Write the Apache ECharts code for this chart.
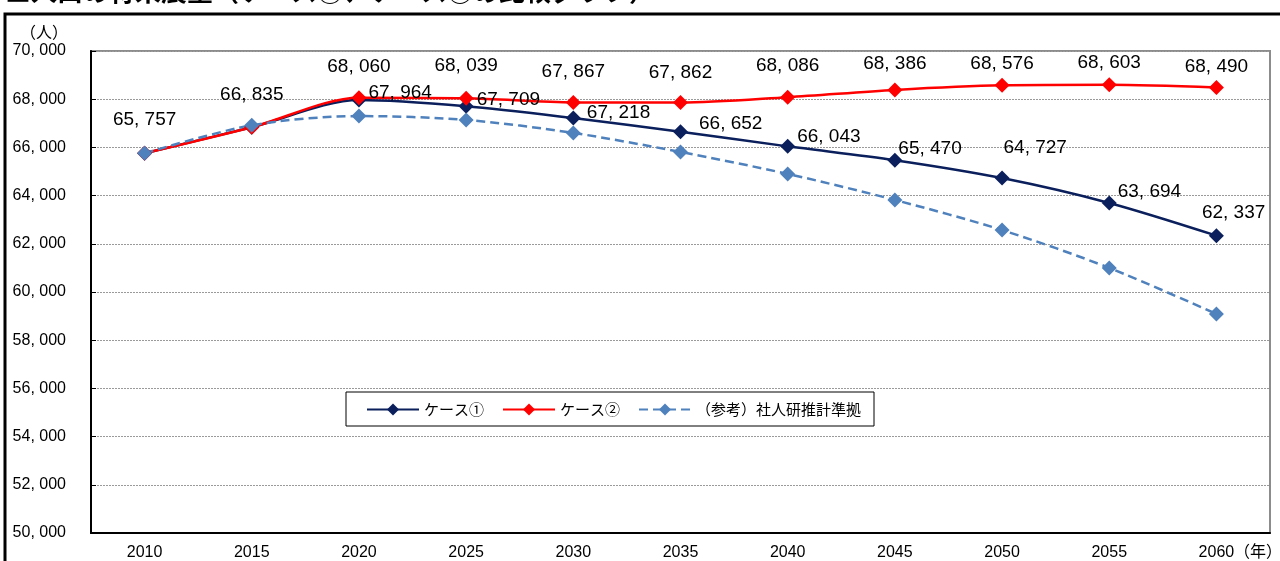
<!DOCTYPE html>
<html>
<head>
<meta charset="utf-8">
<script src="https://cdn.jsdelivr.net/npm/echarts@6/dist/echarts.min.js"></script>
<style>
  html, body { margin: 0; padding: 0; background: #fff; }
  #chart { width: 1280px; height: 561px; }
</style>
</head>
<body>
<div id="chart"></div>
<script>
const years = ['2010', '2015', '2020', '2025', '2030', '2035', '2040', '2045', '2050', '2055', '2060']
const case1 = [65757, 66835, 67964, 67709, 67218, 66652, 66043, 65470, 64727, 63694, 62337]
const case2 = [65757, 66835, 68060, 68039, 67867, 67862, 68086, 68386, 68576, 68603, 68490]
const ipss = [65757, 66920, 67300, 67140, 66600, 65810, 64900, 63820, 62570, 61000, 59090]
const seriesNames = ['ケース①', 'ケース②', '（参考）社人研推計準拠']

// where each data label sits next to its marker (px)
const case1Shift = [null, null, [2, -7], [3, -6], [6, -5], [11, -8], [2, -10], [-4, -11], [-6, -30], [1, -11], [-22, -23]]
const case2Shift = [-16, -16, -14, -15, -14, -13, -14, -9, -5, -5, -4]

const numFont = '"Liberation Sans", Arial, sans-serif'
const jpFont = '"Noto Sans CJK JP", sans-serif'

function fmt (v) {
  return String(v).replace(/\B(?=(\d{3})+$)/g, ', ')
}

const labelBase = { color: '#000', fontSize: 19, fontFamily: numFont, formatter: p => fmt(p.value) }

const case1Data = case1.map((v, i) => {
  const s = case1Shift[i]
  if (!s) return { value: v, label: { show: false } }
  return { value: v, label: Object.assign({}, labelBase, { show: true, position: 'right', distance: 0, offset: s }) }
})
const case2Data = case2.map((v, i) => ({
  value: v,
  label: Object.assign({}, labelBase, { show: true, position: 'top', distance: 0, offset: [0, case2Shift[i]] })
}))

const chart = echarts.init(document.getElementById('chart'), null, { renderer: 'canvas' })

const option = {
  animation: false,
  backgroundColor: '#fff',
  grid: { left: 91, right: 10, top: 51, bottom: 28, show: true, borderColor: '#8c8c8c', borderWidth: 2, backgroundColor: 'transparent' },
  legend: {
    left: 346,
    top: 392,
    orient: 'horizontal',
    backgroundColor: '#fff',
    borderColor: '#000',
    borderWidth: 1,
    padding: [10, 13, 9, 20],
    itemWidth: 52,
    itemHeight: 15,
    itemGap: 18,
    textStyle: { fontFamily: jpFont, fontSize: 15, color: '#000' },
    data: seriesNames
  },
  xAxis: {
    type: 'category',
    data: years,
    boundaryGap: true,
    axisLine: { lineStyle: { color: '#000', width: 2 } },
    axisTick: { inside: true, length: 5, lineStyle: { color: '#000', width: 1 } },
    axisLabel: { color: '#000', fontSize: 16, fontFamily: numFont, margin: 12 }
  },
  yAxis: {
    type: 'value',
    min: 50000,
    max: 70000,
    interval: 2000,
    axisLine: { show: true, lineStyle: { color: '#000', width: 2 } },
    axisTick: { show: true, inside: true, length: 5, lineStyle: { color: '#000' } },
    axisLabel: { color: '#000', fontSize: 16, fontFamily: numFont, margin: 25, formatter: v => fmt(v) },
    splitLine: { lineStyle: { color: '#9a9a9a', type: [2, 1], width: 1 } }
  },
  graphic: [
    // outer frame of the sheet
    { type: 'rect', shape: { x: 5, y: 14, width: 1400, height: 700 }, style: { fill: 'none', stroke: '#000', lineWidth: 3 }, silent: true },
    { type: 'text', left: 5, top: -22, style: { text: '■人口の将来展望（ケース①、ケース②の比較グラフ）', font: 'bold 26px "Noto Sans CJK JP"', fill: '#000' } },
    { type: 'text', x: 44, y: 32, style: { text: '（人）', font: '16px "Noto Sans CJK JP"', fill: '#000', textAlign: 'center', textVerticalAlign: 'middle' } },
    { type: 'text', x: 1258, y: 551, style: { text: '（年）', font: '16px "Noto Sans CJK JP"', fill: '#000', textAlign: 'center', textVerticalAlign: 'middle' } }
  ],
  series: [
    {
      name: seriesNames[0],
      type: 'line',
      data: case1Data,
      smooth: 0.3,
      symbol: 'diamond',
      symbolSize: 15,
      color: '#0a1f5c',
      lineStyle: { color: '#0a1f5c', width: 2.5 },
      itemStyle: { color: '#0a1f5c' }
    },
    {
      name: seriesNames[1],
      type: 'line',
      data: case2Data,
      smooth: 0.3,
      symbol: 'diamond',
      symbolSize: 15,
      color: '#ff0000',
      lineStyle: { color: '#ff0000', width: 2.5 },
      itemStyle: { color: '#ff0000' }
    },
    {
      name: seriesNames[2],
      type: 'line',
      data: ipss,
      smooth: 0.3,
      symbol: 'diamond',
      symbolSize: 15,
      color: '#4f81bd',
      lineStyle: { color: '#4f81bd', width: 2.5, type: [9, 5] },
      itemStyle: { color: '#4f81bd' }
    }
  ]
}

chart.setOption(option)
</script>
</body>
</html>
